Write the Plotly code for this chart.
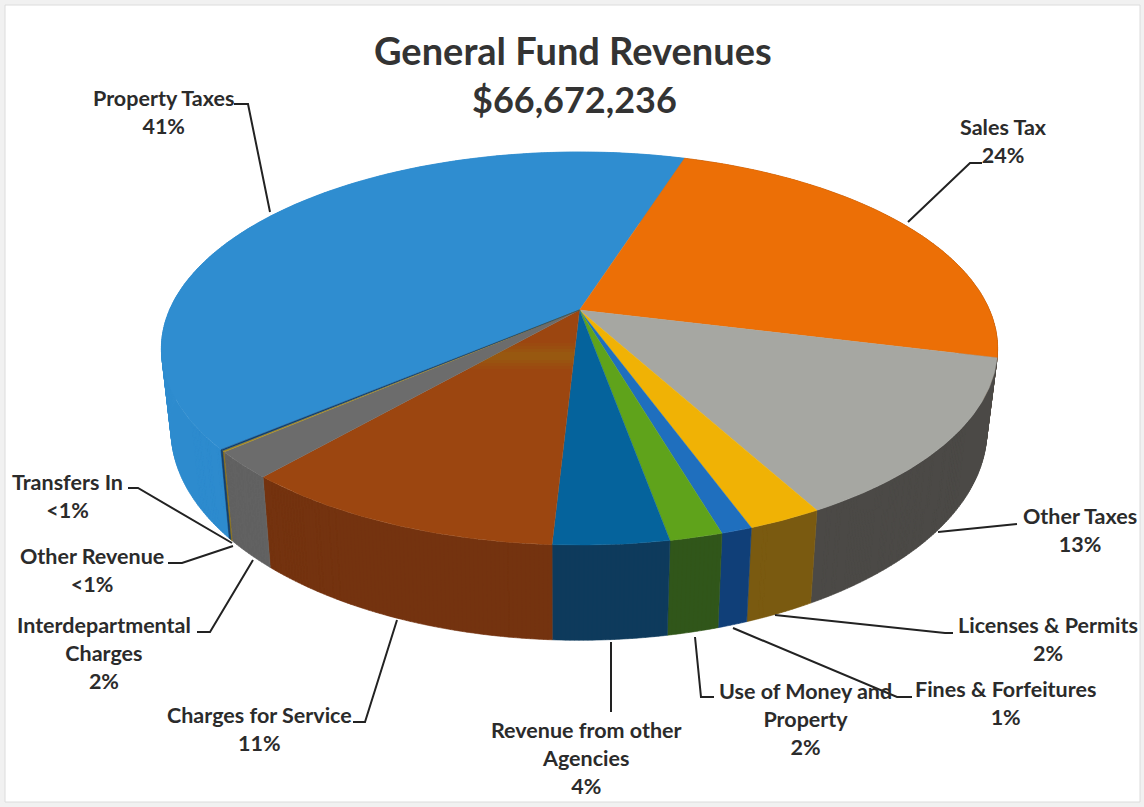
import numpy as np
import plotly.graph_objects as go

# Revenue categories, clockwise from the first slice
categories = ["Property Taxes", "Sales Tax", "Other Taxes", "Licenses & Permits",
              "Fines & Forfeitures", "Use of Money and Property",
              "Revenue from other Agencies", "Charges for Service",
              "Interdepartmental Charges", "Other Revenue", "Transfers In"]
shares = [41.0, 23.9, 13.15, 2.4, 1.0, 1.7, 3.7, 10.55, 2.2, 0.1, 0.1]
share_labels = ["41%", "24%", "13%", "2%", "1%", "2%", "4%", "11%", "2%", "<1%", "<1%"]

top_colors = ["#2f8dd0", "#ec6f06", "#a6a7a2", "#f0b205", "#1f6fbe", "#5fa31b",
              "#05639c", "#9c4610", "#6c6c6c", "#a68a22", "#12406e"]
wall_colors = ["#2e8bce", "#b85505", "#4b4946", "#7a5a10", "#103f78", "#30561a",
               "#0e3a5c", "#74330f", "#626262", "#8a7020", "#12406e"]

TITLE_LINE = "General Fund Revenues"
TOTAL_LINE = "$66,672,236"
FIRST_SLICE_DEG = -130.2

# Perspective ellipses for the top face and the base of the disc
TOP = dict(cx=579.5, cy=310, a=410, b=189, p=0.196)
BASE = dict(cx=579, cy=389, a=400, b=202, p=0.196)

# Label text placement: (centre x, first line y, lines)
label_layout = [
    (163, 98, ["Property Taxes"]),
    (1003, 127, ["Sales Tax"]),
    (1080, 516, ["Other Taxes"]),
    (1048, 625, ["Licenses & Permits"]),
    (1005, 689, ["Fines & Forfeitures"]),
    (805, 691, ["Use of Money and", "Property"]),
    (586, 730, ["Revenue from other", "Agencies"]),
    (259, 715, ["Charges for Service"]),
    (104, 625, ["Interdepartmental", "Charges"]),
    (92, 556, ["Other Revenue"]),
    (67, 482, ["Transfers In"]),
]

# Leader line routes, one per label
leaders = [
    [(234, 104), (248, 104), (270, 212)],
    [(982, 163), (970, 163), (908, 222)],
    [(1017, 524), (938, 532)],
    [(953, 633), (945, 633), (775, 615)],
    [(912, 697), (897, 697), (733, 628)],
    [(714, 697), (701, 697), (695, 637)],
    [(611, 712), (611, 642)],
    [(353, 722), (365, 722), (397, 620)],
    [(197, 632), (210, 632), (253, 560)],
    [(168, 563), (182, 563), (233, 546)],
    [(128, 488), (138, 488), (232, 543)],
]


def project(deg, face):
    """Map clockwise degrees from the back of the disc onto a face ellipse."""
    t = np.radians(np.asarray(deg, dtype=float))
    u, v = np.sin(t), np.cos(t)
    w = 1 + face["p"] * v
    return face["cx"] + face["a"] * u / w, face["cy"] - face["b"] * v / w


totals = np.cumsum([0.0] + shares) / sum(shares) * 360 + FIRST_SLICE_DEG
spans = list(zip(totals[:-1], totals[1:]))


def arc(start, end):
    return np.linspace(start, end, max(int((end - start) * 2), 2) + 1)


def wall_path(start, end):
    """One small quad per arc step, so the silhouette follows the disc's tangents."""
    deg = arc(start, end)
    xt, yt = project(deg, TOP)
    xb, yb = project(deg, BASE)
    xs, ys = [], []
    for i in range(len(deg) - 1):
        xs += [xt[i], xt[i + 1], xb[i + 1], xb[i], xt[i], None]
        ys += [yt[i], yt[i + 1], yb[i + 1], yb[i], yt[i], None]
    return xs, ys


fig = go.Figure()

# Outer walls come first so the top faces can cover their hidden parts
for name, (start, end), colour in zip(categories, spans, wall_colors):
    xs, ys = wall_path(start, end)
    fig.add_trace(go.Scatter(
        x=xs, y=ys, mode="lines", fill="toself",
        fillcolor=colour, line=dict(color=colour, width=0.6), name=name,
        hoverinfo="name", showlegend=False))

for name, (start, end), colour in zip(categories, spans, top_colors):
    xt, yt = project(arc(start, end), TOP)
    fig.add_trace(go.Scatter(
        x=np.r_[TOP["cx"], xt, TOP["cx"]], y=np.r_[TOP["cy"], yt, TOP["cy"]],
        mode="lines", fill="toself", fillcolor=colour,
        line=dict(color=colour, width=0.4), name=name,
        hoverinfo="name", showlegend=False))

# Sheen band across the Charges for Service face
start, end = spans[categories.index("Charges for Service")]
x0, y0 = project(start, TOP)
x1, y1 = project(end, TOP)


def edge_x(edge_xv, edge_yv, y):
    return TOP["cx"] + (edge_xv - TOP["cx"]) * (y - TOP["cy"]) / (edge_yv - TOP["cy"])


for half, alpha in [(13, 0.08), (10, 0.08), (7, 0.10), (4, 0.12)]:
    ya, yb = 356 - half, 356 + half
    fig.add_trace(go.Scatter(
        x=[edge_x(x1, y1, ya), edge_x(x0, y0, ya), edge_x(x0, y0, yb), edge_x(x1, y1, yb),
           edge_x(x1, y1, ya)],
        y=[ya, ya, yb, yb, ya], mode="lines", fill="toself",
        fillcolor=f"rgba(150,130,20,{alpha})", line=dict(width=0),
        hoverinfo="skip", showlegend=False))

for route in leaders:
    xs, ys = zip(*route)
    fig.add_trace(go.Scatter(x=xs, y=ys, mode="lines", line=dict(color="#222222", width=2),
                             hoverinfo="skip", showlegend=False))

annotations = [
    dict(x=573, y=50, text=f"<b>{TITLE_LINE}</b>", showarrow=False, xref="x", yref="y",
         xanchor="center", yanchor="middle",
         font=dict(family="Lato", size=38, color="#333333")),
    dict(x=574, y=99, text=f"<b>{TOTAL_LINE}</b>", showarrow=False, xref="x", yref="y",
         xanchor="center", yanchor="middle",
         font=dict(family="Lato", size=36, color="#333333")),
]
for (x, y, lines), share in zip(label_layout, share_labels):
    text = "<br>".join(lines + [share.replace("<", "&lt;")])
    annotations.append(dict(x=x, y=y - 15, text=f"<b>{text}</b>", showarrow=False,
                            xref="x", yref="y", xanchor="center", yanchor="top",
                            font=dict(family="Lato", size=21.5, color="#2b2b2b")))

fig.update_layout(
    width=1144, height=807, margin=dict(l=0, r=0, t=0, b=0),
    paper_bgcolor="#f1f1f1", plot_bgcolor="#f1f1f1",
    xaxis=dict(range=[0, 1144], visible=False, fixedrange=True),
    yaxis=dict(range=[807, 0], visible=False, fixedrange=True),
    annotations=annotations,
    shapes=[dict(type="rect", xref="x", yref="y", x0=5, y0=5, x1=1140, y1=802,
                 line=dict(color="#dcdcdc", width=1), fillcolor="#ffffff", layer="below")],
)

fig.write_html("out.html")
